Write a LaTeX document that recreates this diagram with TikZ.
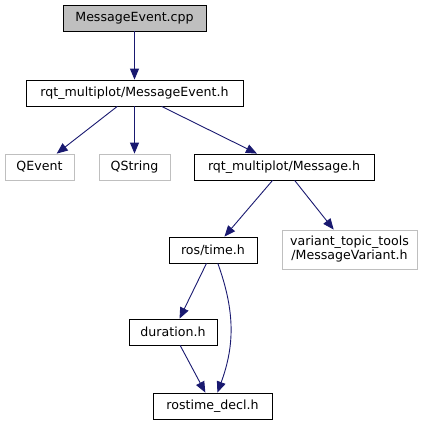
\documentclass[tikz,border=0pt]{standalone}
\usepackage{fontspec}
\setmainfont{DejaVu Sans}
\usetikzlibrary{arrows.meta}
\definecolor{edgeblue}{HTML}{191970}
\definecolor{extgray}{HTML}{BFBFBF}
\tikzset{
  file/.style={draw=black,line width=0.8pt,inner sep=0pt,minimum height=26pt,font=\fontsize{12.6}{14}\selectfont},
  extfile/.style={file,draw=extgray},
  incl/.style={-{Triangle[length=11pt,width=9pt]},edgeblue,line width=0.9pt}
}
\begin{document}
\begin{tikzpicture}[x=1pt,y=-1pt]
\useasboundingbox (0,0) rectangle (433,425);
\node[file,fill=extgray,minimum width=143pt] (cpp) at (134.5,18) {MessageEvent.cpp};
\node[file,minimum width=217pt] (evh) at (134.5,93) {rqt\_multiplot/MessageEvent.h};
\node[extfile,minimum width=69pt] (qevent) at (39.5,167) {QEvent};
\node[extfile,minimum width=71pt] (qstring) at (134.5,167) {QString};
\node[file,minimum width=180pt] (msg) at (284,167) {rqt\_multiplot/Message.h};
\node[file,minimum width=88pt] (time) at (213,250) {ros/time.h};
\node[extfile,minimum width=135pt,minimum height=39pt,align=center] (variant) at (349.5,249.5) {variant\_topic\_tools\\/MessageVariant.h};
\node[file,minimum width=88pt] (duration) at (173,332) {duration.h};
\node[file,minimum width=119pt] (decl) at (212.5,406) {rostime\_decl.h};
\draw[incl] (cpp) -- (evh);
\draw[incl] (evh) -- (qevent);
\draw[incl] (evh) -- (qstring);
\draw[incl] (evh) -- (msg);
\draw[incl] (msg) -- (time);
\draw[incl] (msg) -- (variant);
\draw[incl] (time) -- (duration);
\draw[incl] (time) to[bend left=20] (decl);
\draw[incl] (duration) -- (decl);
\end{tikzpicture}
\end{document}
